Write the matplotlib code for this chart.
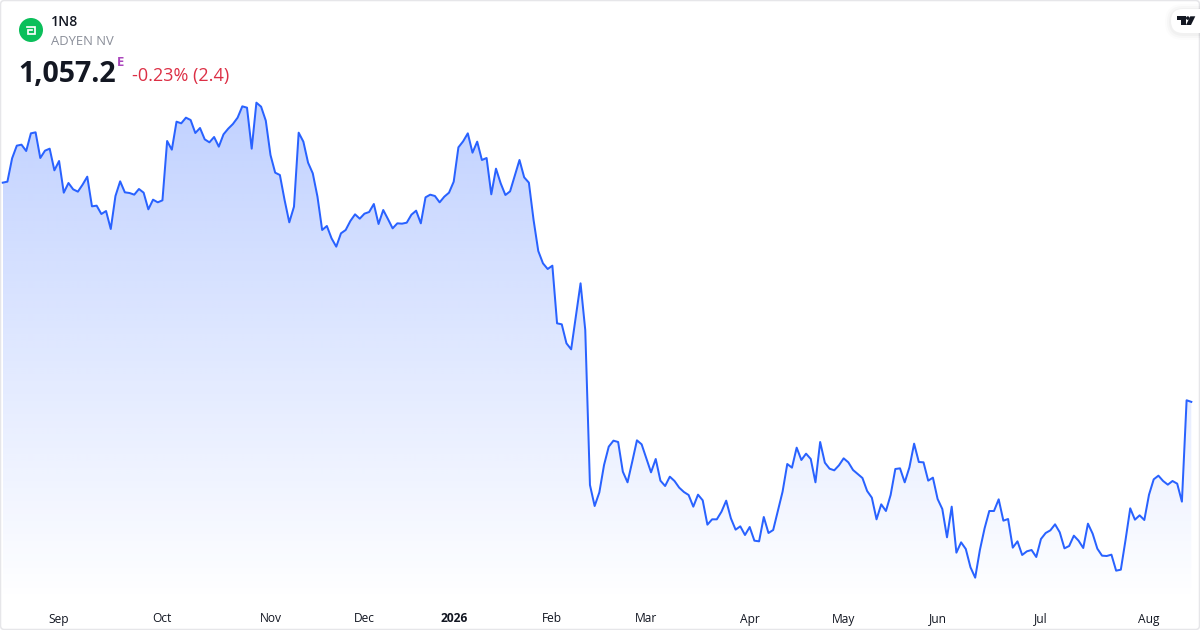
import numpy as np
import matplotlib
matplotlib.use('Agg')
import matplotlib.pyplot as plt
from matplotlib.patches import Circle, FancyBboxPatch, Polygon

#============ Data ===========

prices_2025_a = [1386, 1387.5, 1422.5, 1441.5, 1443, 1433.5, 1460, 1461.5, 1423, 1434, 1437, 1404.5, 1418.5,
                 1371, 1385.5, 1376, 1372.5, 1383, 1395, 1350.5, 1351.5, 1339, 1343.5, 1316.5, 1366, 1388,
                 1371.5, 1370.5, 1368, 1376.5, 1371, 1346, 1360.5, 1356.5, 1359.5, 1448.5, 1435.5, 1477.5,
                 1475, 1483.5, 1480, 1460.5, 1468, 1451, 1446.5, 1454.5, 1440, 1458.5, 1467, 1474, 1483.5,
                 1500.5, 1498.5, 1437, 1506, 1500, 1479, 1427.5, 1401, 1397.5, 1360, 1326.5, 1350, 1461]
prices_2025_b = [1447.5, 1416, 1400, 1365, 1315, 1321, 1302.5, 1290, 1310, 1315, 1328.5, 1338.5, 1332, 1339.5,
                 1342, 1354, 1324, 1345, 1331.5, 1317.5, 1325, 1324.5, 1326, 1338, 1344, 1325, 1364, 1368,
                 1366, 1356.5, 1365, 1371, 1387.5, 1439, 1448, 1460, 1431, 1447.5, 1420, 1423, 1368.5, 1407,
                 1385, 1367.5, 1373, 1396.5, 1420, 1394, 1386, 1330, 1283.5, 1265, 1256.5, 1261.5]
prices_2026_a = [1175, 1173.5, 1145, 1136, 1185, 1235, 1165, 932.5, 901, 921.5, 962.5, 990, 999, 997, 952.5,
                 936.5, 967.5, 999.5, 993.5, 972.5, 951.5, 971.5, 939, 931, 945, 938.5, 928.5, 922, 917.5,
                 900, 918, 909.5, 873, 881, 881, 892.5, 909, 882.5, 865.5, 870.5, 857.5, 869.5, 849, 848,
                 884.5, 860.5, 865, 894, 922.5, 964, 958.5, 988.5, 970, 979.5, 971.5, 936.5, 997, 966, 957,
                 954.5, 962, 972.5]
prices_2026_b = [966.5, 955, 949, 943, 923.5, 913.5, 881, 903.5, 893.5, 917.5, 956.5, 957.5, 936.5, 959, 994.5,
                 967, 966.5, 939, 943.5, 911.5, 896.5, 854, 900, 831, 846.5, 836.5, 809, 793.5, 835, 867.5,
                 893.5, 893.5, 911, 879, 881.5, 838.5, 848, 827.5, 833, 835, 824.5, 851.5, 860.5, 864.5,
                 873.5, 861.5, 837.5, 841, 856.5, 849, 838, 874.5, 859.5, 837, 826.5, 826, 828, 804, 805.5,
                 850, 897.5, 880.5, 887, 880, 918, 941, 946.5, 938.5, 933, 938.5, 934.5, 907.5, 1059.6, 1057.2]

tick_pos = [12, 34, 57, 77, 96, 117, 137, 159, 179, 199, 221, 244]
tick_labels = ['Sep', 'Oct', 'Nov', 'Dec', '2026', 'Feb', 'Mar', 'Apr', 'May', 'Jun', 'Jul', 'Aug']

prices = np.array(prices_2025_a + prices_2025_b + prices_2026_a + prices_2026_b)
idx = np.arange(len(prices))

#============ Page and scales ===========

plt.rcParams['font.family'] = ['Open Sans', 'DejaVu Sans']
W, H = 1200, 630
LINE = '#2962ff'
px = 0.72   # one pixel in points at dpi 100

fig = plt.figure(figsize=(W / 100, H / 100), dpi=100, facecolor='white')

# overlay in pixel coordinates for the card and the header furniture
deco = fig.add_axes([0, 0, 1, 1], zorder=3)
deco.set_xlim(0, W)
deco.set_ylim(H, 0)
deco.axis('off')

ax = fig.add_axes([0, 0, 1, 1], zorder=2)
ax.patch.set_alpha(0)
step = (1191.3 - 2.7) / (len(prices) - 1)
ax.set_xlim(-2.7 / step, (W - 2.7) / step)
ax.set_ylim(1660 - 1.5 * H, 1660)
for s in ax.spines.values():
    s.set_visible(False)

#============ Area with vertical gradient ===========

base_price = 1660 - 1.5 * 602
top_price = 1660 - 1.5 * 90
grad = np.zeros((256, 2, 4))
grad[..., 0] = 41 / 255
grad[..., 1] = 98 / 255
grad[..., 2] = 1.0
grad[..., 3] = np.linspace(0.30, 0.0, 256)[:, None]
im = ax.imshow(grad, extent=(idx[0], idx[-1], base_price, top_price), aspect='auto', zorder=1,
               interpolation='bilinear', origin='upper')
poly = ax.fill_between(idx, prices, base_price, color='none')
im.set_clip_path(poly.get_paths()[0], transform=ax.transData)
ax.set_xlim(-2.7 / step, (W - 2.7) / step)
ax.set_ylim(1660 - 1.5 * H, 1660)

ax.plot(idx, prices, color=LINE, lw=2 * px, solid_joinstyle='round', zorder=2)

ax.set_yticks([])
ax.set_xticks(tick_pos)
ax.set_xticklabels(tick_labels, fontsize=12 * px, color='#131722')
ax.tick_params(axis='x', direction='in', length=0, pad=-17.5 * px)
ax.get_xticklabels()[4].set_fontweight('bold')

#============ Card border and TradingView pill ===========

deco.add_patch(FancyBboxPatch((0.5, 0.5), W - 1, H - 1, boxstyle='round,pad=0,rounding_size=4',
                              fc='none', ec='#e6e6e9', lw=1.5 * px))
for grow, a in [(6, 0.012), (4, 0.018), (2, 0.025)]:
    deco.add_patch(FancyBboxPatch((1171 - grow, 9 - grow + 1), 60 + grow, 24 + 2 * grow,
                                  boxstyle='round,pad=0,rounding_size=%d' % (12 + grow),
                                  fc='black', ec='none', alpha=a))
deco.add_patch(FancyBboxPatch((1171, 9), 60, 24, boxstyle='round,pad=0,rounding_size=12', fc='white', ec='none'))
deco.add_patch(Polygon([(1177.3, 16.3), (1186, 16.3), (1186, 25), (1181, 25), (1181, 20), (1177.3, 20)],
                       fc='#131722', ec='none'))
deco.add_patch(Circle((1187.8, 18.1), 1.8, fc='#131722', ec='none'))
deco.add_patch(Polygon([(1190.3, 16.3), (1195.3, 16.3), (1191, 25), (1186, 25)], fc='#131722', ec='none'))

#============ Symbol logo and header text ===========

deco.add_patch(Circle((31, 30), 12, fc='#0bbf5b', ec='none'))
deco.plot([27, 34.6, 34.6, 28, 28, 31.8], [26.8, 26.8, 33.6, 33.6, 30.4, 30.4], color='white',
          lw=1.7 * px, solid_joinstyle='miter')

deco.text(51, 22, '1N8', fontsize=14 * px, fontweight='semibold', color='#131722', va='center', ha='left')
deco.text(51, 41.5, 'ADYEN NV', fontsize=13 * px, color='#8a8e99', va='center', ha='left')
deco.text(18, 75, '1,057.2', fontsize=28.5 * px, fontweight='bold', color='#131722', va='center', ha='left')
deco.text(116.5, 62.5, 'E', fontsize=13 * px, fontweight='bold', color='#ab47bc', va='center', ha='left')
deco.text(132, 76.5, '-0.23% (2.4)', fontsize=18 * px, color='#dc2f45', va='center', ha='left')

fig.savefig('out.png', dpi=100, facecolor='white')
